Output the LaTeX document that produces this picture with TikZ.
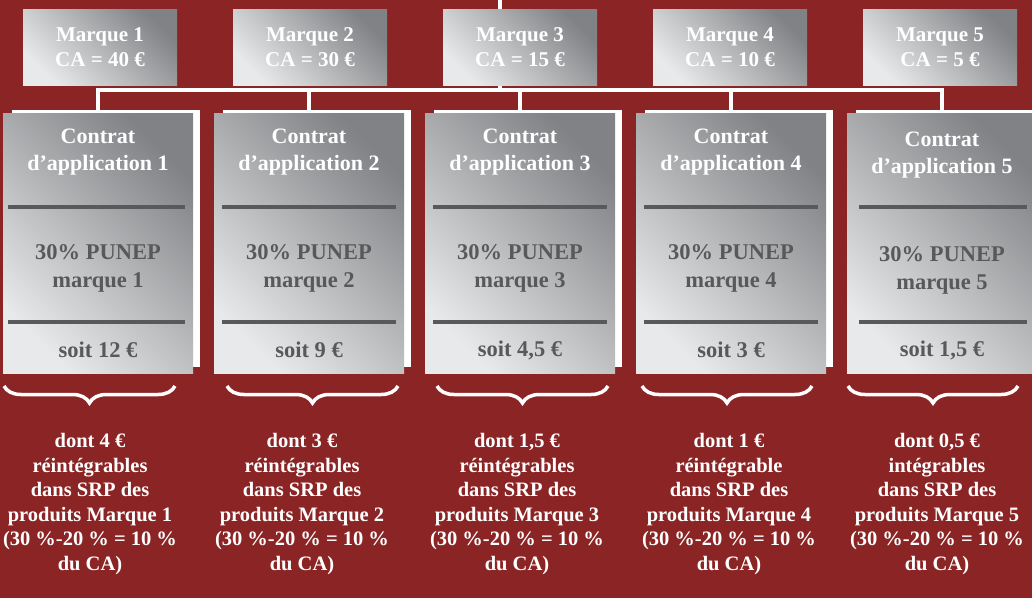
\documentclass[tikz,border=0pt]{standalone}
\usepackage{fontspec}
\setmainfont{Liberation Serif}
\usetikzlibrary{positioning,decorations.pathreplacing,calc}
\definecolor{wine}{RGB}{139,37,37}
\definecolor{steel}{RGB}{128,130,133}
\definecolor{mist}{RGB}{232,233,234}
\definecolor{slate}{RGB}{88,89,91}
\pgfdeclarelayer{back}
\pgfsetlayers{back,main}

\begin{document}
\begin{tikzpicture}
  [x=1pt,y=-1pt,
   marque/.style={rectangle,top color=steel,bottom color=mist,shading angle=-45,
                  minimum width=154pt,minimum height=76pt,inner sep=0pt,outer sep=0pt,
                  text=white,font=\fontsize{21}{25}\selectfont\bfseries,align=center},
   contrat/.style={rectangle,top color=steel,bottom color=mist,shading angle=-45,
                   minimum width=190pt,minimum height=260pt,inner sep=0pt,outer sep=0pt},
   cadre/.style={rectangle,fill=white,minimum width=188pt,minimum height=257pt,inner sep=0pt},
   head/.style={text=white,font=\fontsize{22}{27}\selectfont\bfseries,align=center,inner sep=0pt},
   part/.style={text=slate,font=\fontsize{22.5}{28}\selectfont\bfseries,align=center,inner sep=0pt},
   note/.style={text=white,font=\fontsize{20.5}{24.6}\selectfont\bfseries,align=center,inner sep=0pt},
   wire/.style={draw=white,line width=4pt},
   rule/.style={draw=slate,line width=3.5pt},
   accolade/.style={draw=white,line width=3.5pt,decorate,
                    decoration={brace,mirror,amplitude=17pt,aspect=0.5}}]
  \begin{pgfonlayer}{back}
    \fill[wine] (0,0) rectangle (1032,598);
  \end{pgfonlayer}
  \useasboundingbox (0,0) rectangle (1032,598);

  % brands
  \node[marque] (m1) at (100,47)       {Marque 1\\CA = 40 €};
  \node[marque] (m2) [right=56pt of m1] {Marque 2\\CA = 30 €};
  \node[marque] (m3) [right=56pt of m2] {Marque 3\\CA = 15 €};
  \node[marque] (m4) [right=56pt of m3] {Marque 4\\CA = 10 €};
  \node[marque] (m5) [right=56pt of m4] {Marque 5\\CA = 5 €};

  % contracts
  \node[contrat] (c1) at (98,243)       {};
  \node[contrat] (c2) [right=21pt of c1] {};
  \node[contrat] (c3) [right=21pt of c2] {};
  \node[contrat] (c4) [right=21pt of c3] {};
  \node[contrat] (c5) [right=21pt of c4] {};

  \begin{pgfonlayer}{back}
    \coordinate (top) at (500,0);
    \coordinate (hub) at (500,90);
    \draw[wire] (top) -- (hub);
    \draw[wire] (c1.north) -- (c1.north |- hub) -- (c5.north |- hub) -- (c5.north);
    \draw[wire] (c2.north |- hub) -- (c2.north);
    \draw[wire] (c3.north |- hub) -- (c3.north);
    \draw[wire] (c4.north |- hub) -- (c4.north);
    \node[cadre] (f1) at ([xshift=8pt,yshift=5pt]c1.center) {};
    \node[cadre] (f2) at ([xshift=8pt,yshift=5pt]c2.center) {};
    \node[cadre] (f3) at ([xshift=8pt,yshift=5pt]c3.center) {};
    \node[cadre] (f4) at ([xshift=8pt,yshift=5pt]c4.center) {};
    \node[cadre] (f5) at ([xshift=8pt,yshift=5pt]c5.center) {};
  \end{pgfonlayer}

  \node[head] (h1) at ([yshift=-39pt]c1.north) {Contrat\\d’application 1};
  \node[head] (h2) at ([yshift=-39pt]c2.north) {Contrat\\d’application 2};
  \node[head] (h3) at ([yshift=-39pt]c3.north) {Contrat\\d’application 3};
  \node[head] (h4) at ([yshift=-39pt]c4.north) {Contrat\\d’application 4};
  \node[head] (h5) at ([yshift=-42pt]c5.north) {Contrat\\d’application 5};

  \node[part] (p1) at ([yshift=-155pt]c1.north) {30\% PUNEP\\marque 1};
  \node[part] (p2) at ([yshift=-155pt]c2.north) {30\% PUNEP\\marque 2};
  \node[part] (p3) at ([yshift=-155pt]c3.north) {30\% PUNEP\\marque 3};
  \node[part] (p4) at ([yshift=-155pt]c4.north) {30\% PUNEP\\marque 4};
  \node[part] (p5) at ([yshift=-157pt]c5.north) {30\% PUNEP\\marque 5};

  \node[part] (s1) at ([yshift=-237pt]c1.north) {soit 12 €};
  \node[part] (s2) at ([yshift=-237pt]c2.north) {soit 9 €};
  \node[part] (s3) at ([yshift=-237pt]c3.north) {soit 4,5 €};
  \node[part] (s4) at ([yshift=-237pt]c4.north) {soit 3 €};
  \node[part] (s5) at ([yshift=-237pt]c5.north) {soit 1,5 €};

  % separators inside the contracts
  \draw[rule] ([xshift=5pt,yshift=-94pt]c1.north west) -- ([xshift=-8pt,yshift=-94pt]c1.north east);
  \draw[rule] ([xshift=5pt,yshift=-209pt]c1.north west) -- ([xshift=-8pt,yshift=-209pt]c1.north east);
  \draw[rule] ([xshift=8pt,yshift=-94pt]c2.north west) -- ([xshift=-8pt,yshift=-94pt]c2.north east);
  \draw[rule] ([xshift=8pt,yshift=-209pt]c2.north west) -- ([xshift=-8pt,yshift=-209pt]c2.north east);
  \draw[rule] ([xshift=8pt,yshift=-94pt]c3.north west) -- ([xshift=-8pt,yshift=-94pt]c3.north east);
  \draw[rule] ([xshift=8pt,yshift=-209pt]c3.north west) -- ([xshift=-8pt,yshift=-209pt]c3.north east);
  \draw[rule] ([xshift=8pt,yshift=-94pt]c4.north west) -- ([xshift=-8pt,yshift=-94pt]c4.north east);
  \draw[rule] ([xshift=8pt,yshift=-209pt]c4.north west) -- ([xshift=-8pt,yshift=-209pt]c4.north east);
  \draw[rule] ([xshift=12pt,yshift=-94pt]c5.north west) -- ([xshift=-10pt,yshift=-94pt]c5.north east);
  \draw[rule] ([xshift=12pt,yshift=-209pt]c5.north west) -- ([xshift=-10pt,yshift=-209pt]c5.north east);

  % braces and notes
  \draw[accolade] (4,386) -- (175,386);
  \draw[accolade] (227,386) -- (398,386);
  \draw[accolade] (437,386) -- (608,386);
  \draw[accolade] (642,386) -- (812,386);
  \draw[accolade] (848,386) -- (1018,386);

  \node[note] (n1) at (90,504)  {dont 4 €\\réintégrables\\dans SRP des\\produits Marque 1\\(30~\%-20~\% = 10~\%\\du CA)};
  \node[note] (n2) at (302,504) {dont 3 €\\réintégrables\\dans SRP des\\produits Marque 2\\(30~\%-20~\% = 10~\%\\du CA)};
  \node[note] (n3) at (517,504) {dont 1,5 €\\réintégrables\\dans SRP des\\produits Marque 3\\(30~\%-20~\% = 10~\%\\du CA)};
  \node[note] (n4) at (729,504) {dont 1 €\\réintégrable\\dans SRP des\\produits Marque 4\\(30~\%-20~\% = 10~\%\\du CA)};
  \node[note] (n5) at (937,504) {dont 0,5 €\\intégrables\\dans SRP des\\produits Marque 5\\(30~\%-20~\% = 10~\%\\du CA)};
\end{tikzpicture}
\end{document}
